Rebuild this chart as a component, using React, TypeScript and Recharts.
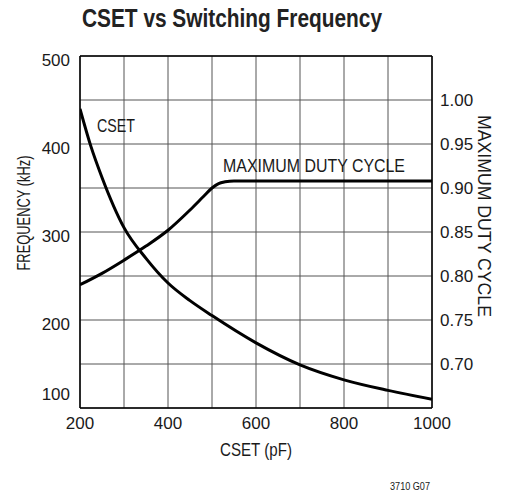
import React from 'react';
import { LineChart, Line, XAxis, YAxis, CartesianGrid, ReferenceLine } from 'recharts';

// CSET curve (kHz vs pF)
const csetCap = [200, 225, 250, 300, 350, 400, 450, 500, 600, 700, 800, 900, 1000];
const csetFreq = [440, 397, 362, 305, 270, 242, 222, 205, 174, 149, 132, 120, 110];

// maximum duty cycle curve
const dutyCap = [200, 250, 300, 350, 400, 450, 480, 500, 515, 530, 550, 600, 700, 800, 900, 1000];
const dutyCycle = [0.79, 0.803, 0.818, 0.834, 0.852, 0.875, 0.89, 0.9, 0.905, 0.907, 0.908, 0.908, 0.908, 0.908, 0.908, 0.908];

const xTicks = [200, 300, 400, 500, 600, 700, 800, 900, 1000];
const leftTicks = [100, 200, 300, 400, 500];
const rightTicks = [0.7, 0.75, 0.8, 0.85, 0.9, 0.95, 1.0];

const csetData = csetCap.map((pf, i) => ({ pf, khz: csetFreq[i] }));
const dutyData = dutyCap.map((pf, i) => ({ pf, duty: dutyCycle[i] }));

const FONT = '"Liberation Sans", Arial, sans-serif';
const INK = '#1a1a1a';

const LeftTick = (props: any) => {
  const { x, y, payload } = props;
  const shift = payload.value === 100 ? -8 : 10;
  return (
    <text x={x} y={y + shift} textAnchor="end" fontSize={17} fill={INK} fontFamily={FONT}>
      {payload.value}
    </text>
  );
};

const App: React.FC = () => {
  return (
    <div style={{ position: 'absolute', left: 0, top: 0, width: 509, height: 496, background: '#fff', fontFamily: FONT }}>
      <LineChart width={509} height={496} margin={{ top: 56, right: 0, bottom: 0, left: 0 }}>
        <CartesianGrid xAxisId="x" yAxisId="right" stroke="#555" strokeWidth={1} />
        <XAxis
          xAxisId="x"
          dataKey="pf"
          type="number"
          domain={[200, 1000]}
          ticks={xTicks}
          tickFormatter={(v: number) => (v % 200 === 0 ? String(v) : '')}
          height={88}
          axisLine={{ stroke: '#000', strokeWidth: 1.5 }}
          tickLine={false}
          tickSize={0}
          tickMargin={9}
          tick={{ fontSize: 17, fill: INK }}
          allowDataOverflow
        />
        <YAxis
          yAxisId="left"
          domain={[100, 500]}
          ticks={leftTicks}
          width={80}
          axisLine={{ stroke: '#000', strokeWidth: 1.5 }}
          tickLine={false}
          tickSize={0}
          tickMargin={10}
          tick={<LeftTick />}
          allowDataOverflow
        />
        <YAxis
          yAxisId="right"
          orientation="right"
          domain={[0.65, 1.05]}
          ticks={rightTicks}
          tickFormatter={(v: number) => v.toFixed(2)}
          width={77}
          axisLine={{ stroke: '#000', strokeWidth: 1.5 }}
          tickLine={false}
          tickSize={0}
          tickMargin={8}
          tick={{ fontSize: 17, fill: INK }}
          allowDataOverflow
        />
        <ReferenceLine xAxisId="x" yAxisId="left" y={500} stroke="#000" strokeWidth={1.5} />
        <Line
          xAxisId="x"
          yAxisId="left"
          data={csetData}
          dataKey="khz"
          type="monotone"
          stroke="#000"
          strokeWidth={3}
          dot={false}
          activeDot={false}
          isAnimationActive={false}
        />
        <Line
          xAxisId="x"
          yAxisId="right"
          data={dutyData}
          dataKey="duty"
          type="monotone"
          stroke="#000"
          strokeWidth={3}
          dot={false}
          activeDot={false}
          isAnimationActive={false}
        />
      </LineChart>
      <svg width={509} height={496} style={{ position: 'absolute', left: 0, top: 0, pointerEvents: 'none' }}>
        <text x={82} y={27} fontSize={26} fontWeight="bold" fill="#222" textLength={300} lengthAdjust="spacingAndGlyphs">
          CSET vs Switching Frequency
        </text>
        <text x={116} y={132} textAnchor="middle" fontSize={18} fill={INK} textLength={38} lengthAdjust="spacingAndGlyphs">
          CSET
        </text>
        <text x={223} y={172} fontSize={19} fill={INK} textLength={182} lengthAdjust="spacingAndGlyphs">
          MAXIMUM DUTY CYCLE
        </text>
        <text x={256} y={456} textAnchor="middle" fontSize={18} fill={INK} textLength={72} lengthAdjust="spacingAndGlyphs">
          CSET (pF)
        </text>
        <text
          transform="translate(30,213) rotate(-90)"
          textAnchor="middle"
          fontSize={18}
          fill={INK}
          textLength={115}
          lengthAdjust="spacingAndGlyphs"
        >
          FREQUENCY (kHz)
        </text>
        <text
          transform="translate(478,216) rotate(90)"
          textAnchor="middle"
          fontSize={18}
          fill={INK}
          textLength={202}
          lengthAdjust="spacingAndGlyphs"
        >
          MAXIMUM DUTY CYCLE
        </text>
        <text x={390} y={490} fontSize={11} fill={INK} textLength={40} lengthAdjust="spacingAndGlyphs">
          3710 G07
        </text>
      </svg>
    </div>
  );
};

export default App;
